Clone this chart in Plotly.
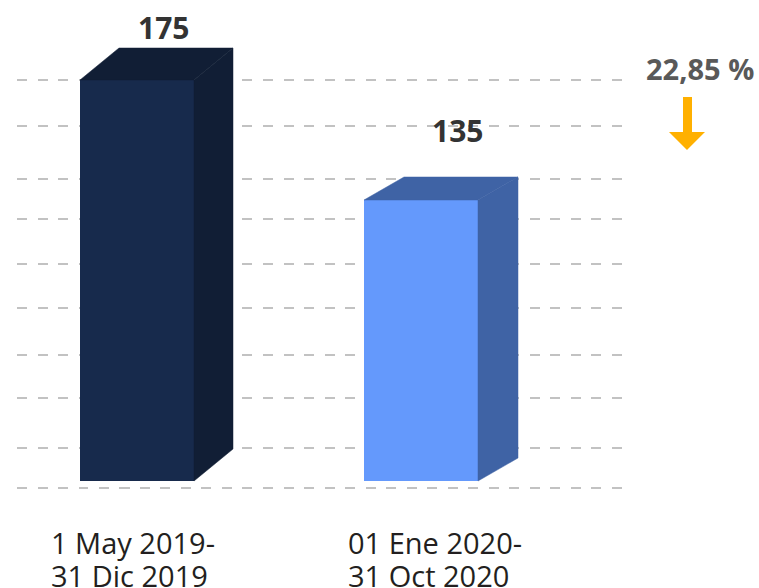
import plotly.graph_objects as go

# ---------------- data ----------------
categories = ["1 May 2019-<br>31 Dic 2019", "01 Ene 2020-<br>31 Oct 2020"]
values = [175, 135]
change_label = "22,85 %"

# ---------------- style ----------------
W, H = 759, 588
L, R, T, B = 17, 127, 0, 0
PX_PER_X = 284.0
PX_PER_Y = 3.0
first_center_px = 137
base_value = 41.333
bar_width = 114 / PX_PER_X
front_colors = ["#172A4C", "#6499FC"]
side_colors = ["#111E35", "#3F63A5"]
depth_dx = [39 / PX_PER_X, 40 / PX_PER_X]
depth_dy = [32 / PX_PER_Y, 23 / PX_PER_Y]
value_label_shift = [(26, 53), (36, 70)]  # pixel shifts (x, up)
cat_left_px = [49, 346]
cat_line_centers_px = [542.5, 575.5]
grid_px = [80, 126, 179, 219, 264, 308, 355, 398, 448, 488]  # gridline pixel rows
FONT = "Open Sans"

plot_w = W - L - R
plot_h = H - T - B
xmin = -(first_center_px - L) / PX_PER_X
xmax = xmin + plot_w / PX_PER_X
ymax = base_value + (481 - T) / PX_PER_Y
ymin = ymax - plot_h / PX_PER_Y
grid_vals = [base_value + (481 - p) / PX_PER_Y for p in grid_px]


def px_x(p):
    return (p - L) / plot_w


def px_y(p):
    return 1 - (p - T) / plot_h


xs = list(range(len(values)))
fig = go.Figure()

# front faces
for i, v in enumerate(values):
    fig.add_trace(go.Bar(
        x=[xs[i]], y=[v - base_value], base=[base_value], width=bar_width,
        marker=dict(color=front_colors[i], line=dict(width=0)),
        hoverinfo="skip", showlegend=False,
    ))

# side and top faces
for i, v in enumerate(values):
    xl = xs[i] - bar_width / 2
    xr = xs[i] + bar_width / 2
    dx, dy = depth_dx[i], depth_dy[i]
    fig.add_trace(go.Scatter(
        x=[xr, xr, xr + dx, xr + dx, xr], y=[base_value, v, v + dy, base_value + dy, base_value],
        fill="toself", fillcolor=side_colors[i], mode="lines",
        line=dict(width=0.5, color=side_colors[i]), hoverinfo="skip", showlegend=False,
    ))
    fig.add_trace(go.Scatter(
        x=[xl, xl + dx, xr + dx, xr, xl], y=[v, v + dy, v + dy, v, v],
        fill="toself", fillcolor=side_colors[i], mode="lines",
        line=dict(width=0.5, color=side_colors[i]), hoverinfo="skip", showlegend=False,
    ))

annotations = []
# value labels
for i, v in enumerate(values):
    sx, sy = value_label_shift[i]
    annotations.append(dict(
        x=xs[i], y=v, xref="x", yref="y", text=f"<b>{v}</b>", showarrow=False,
        xanchor="center", yanchor="middle", xshift=sx, yshift=sy,
        font=dict(family=FONT, size=30, color="#333333"),
    ))

# category labels (two lines, left aligned)
for i, c in enumerate(categories):
    for j, line in enumerate(c.split("<br>")):
        annotations.append(dict(
            x=px_x(cat_left_px[i]), y=px_y(cat_line_centers_px[j]), xref="paper", yref="paper",
            text=line, showarrow=False, xanchor="left", yanchor="middle",
            font=dict(family=FONT, size=29, color="#231F20"),
        ))

# change label
annotations.append(dict(
    x=px_x(700), y=px_y(68.5), xref="paper", yref="paper", text=f"<b>{change_label}</b>",
    showarrow=False, xanchor="center", yanchor="middle",
    font=dict(family=FONT, size=29, color="#595959"),
))

# arrow (decoration)
pts = [(683, 97), (692, 97), (692, 132), (705, 132), (687, 150), (669, 132), (683, 132)]
path = "M " + " L ".join(f"{px_x(a):.5f},{px_y(b):.5f}" for a, b in pts) + " Z"
shapes = [dict(type="path", xref="paper", yref="paper", path=path,
               fillcolor="#FFB000", line=dict(width=0))]

fig.update_layout(
    width=W, height=H,
    margin=dict(l=L, r=R, t=T, b=B, pad=0),
    paper_bgcolor="white", plot_bgcolor="white",
    barmode="overlay",
    xaxis=dict(range=[xmin, xmax], showgrid=False, zeroline=False, showticklabels=False,
               showline=False, fixedrange=True),
    yaxis=dict(range=[ymin, ymax], showgrid=True, gridcolor="#C2C2C2", gridwidth=2,
               griddash="10px,10.5px", tickmode="array", tickvals=grid_vals, zeroline=False,
               showticklabels=False, showline=False, fixedrange=True),
    annotations=annotations, shapes=shapes,
    showlegend=False,
)

fig.write_html(
    "out.html",
    config={"displayModeBar": False},
    post_script="document.body.style.margin='0';document.body.style.overflow='hidden';",
)
